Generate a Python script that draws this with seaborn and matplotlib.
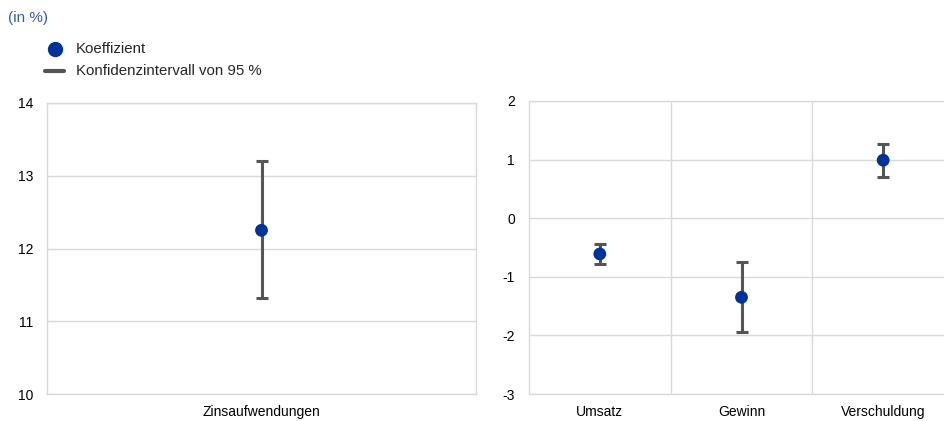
import matplotlib
matplotlib.use("Agg")
import matplotlib.pyplot as plt
from matplotlib.lines import Line2D
import seaborn as sns
import pandas as pd

# Coefficients and 95 % confidence bounds
left_categories = ["Zinsaufwendungen"]
left_coef = [12.25]
left_low = [11.32]
left_high = [13.20]

right_categories = ["Umsatz", "Gewinn", "Verschuldung"]
right_coef = [-0.61, -1.35, 0.99]
right_low = [-0.78, -1.95, 0.71]
right_high = [-0.44, -0.75, 1.26]

left_ticks = [10, 11, 12, 13, 14]
right_ticks = [-3, -2, -1, 0, 1, 2]

BLUE = "#003299"
GREY = "#555555"
GRID = "#d9d9d9"

sns.set_theme(style="white")
plt.rcParams["font.family"] = ["Liberation Sans", "DejaVu Sans"]

W, H = 944, 421
fig = plt.figure(figsize=(W / 100, H / 100), dpi=100)


def px_axes(x0, y0, x1, y1):
    return fig.add_axes([x0 / W, 1 - y1 / H, (x1 - x0) / W, (y1 - y0) / H])


def draw_panel(ax, cats, coef, low, high, ticks):
    df = pd.DataFrame({"cat": cats, "coef": coef, "low": low, "high": high})
    err = [df["coef"] - df["low"], df["high"] - df["coef"]]
    ax.errorbar(range(len(cats)), df["coef"], yerr=err, fmt="none",
                ecolor=GREY, elinewidth=2.2, capsize=4.2, capthick=2.2, zorder=3)
    sns.scatterplot(data=df, x="cat", y="coef", ax=ax, color=BLUE, s=85,
                    edgecolor="none", zorder=4, legend=False)
    ax.set_xlim(-0.5, len(cats) - 0.5)
    ax.set_ylim(ticks[0], ticks[-1])
    ax.set_yticks(ticks)
    ax.set_yticklabels([str(t) for t in ticks])
    ax.grid(axis="y", color=GRID, linewidth=1)
    for b in range(1, len(cats)):
        ax.axvline(b - 0.5, color=GRID, linewidth=1, zorder=0)
    for s in ax.spines.values():
        s.set_color(GRID)
        s.set_linewidth(1)
    ax.set_xlabel("")
    ax.set_ylabel("")
    ax.tick_params(axis="both", length=0, labelsize=10, colors="#000000")
    ax.tick_params(axis="y", pad=10)
    ax.tick_params(axis="x", pad=8)
    ax.set_axisbelow(True)


ax_l = px_axes(47, 103, 476, 394)
draw_panel(ax_l, left_categories, left_coef, left_low, left_high, left_ticks)

ax_r = px_axes(529, 101, 954, 394)
draw_panel(ax_r, right_categories, right_coef, right_low, right_high, right_ticks)
ax_r.spines["right"].set_visible(False)

# Header and legend
fig.text(8 / W, 1 - 18 / H, "(in %)", color="#3b5ba9", fontsize=11, va="center", ha="left")

fig.add_artist(Line2D([54.5 / W], [1 - 49 / H], marker="o", markersize=10,
                      color=BLUE, linestyle="none", transform=fig.transFigure))
fig.text(76 / W, 1 - 49 / H, "Koeffizient", fontsize=10.8, va="center", ha="left")
fig.add_artist(Line2D([45 / W, 64 / W], [1 - 71 / H, 1 - 71 / H], color=GREY,
                      linewidth=3, transform=fig.transFigure))
fig.text(76 / W, 1 - 71 / H, "Konfidenzintervall von 95 %", fontsize=10.8,
         va="center", ha="left")

fig.savefig("out.png", dpi=100)
